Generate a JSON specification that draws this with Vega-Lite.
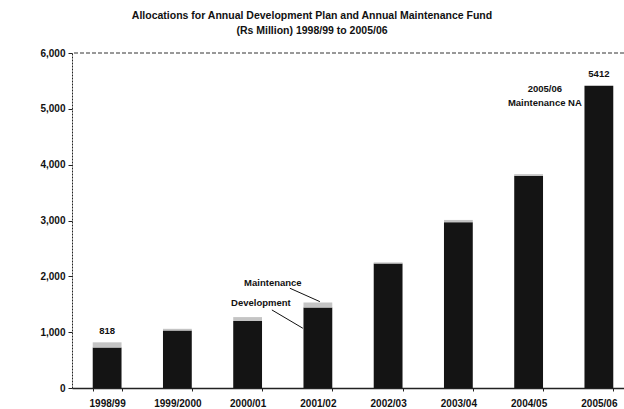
{
  "$schema": "https://vega.github.io/schema/vega-lite/v6.json",
  "autosize": {"type": "none"},
  "padding": {"left": 72, "top": 53, "right": 0, "bottom": 21},
  "width": 552,
  "height": 335,
  "background": "white",
  "config": {
    "font": "Liberation Sans",
    "view": {"stroke": null},
    "axis": {"labelFont": "Liberation Sans", "labelFontWeight": "bold", "labelColor": "#111", "domainColor": "#222", "tickColor": "#222"}
  },
  "title": {
    "text": ["Allocations for Annual Development Plan and Annual Maintenance Fund", "(Rs Million) 1998/99 to 2005/06"],
    "anchor": "middle",
    "dx": -36,
    "offset": 12,
    "fontSize": 10.5,
    "fontWeight": "bold",
    "font": "Liberation Sans",
    "color": "#111",
    "lineHeight": 15
  },
  "layer": [
    {
      "data": {"values": [
        {"year": "1998/99", "type": "Development", "value": 725},
        {"year": "1998/99", "type": "Maintenance", "value": 93},
        {"year": "1999/2000", "type": "Development", "value": 1030},
        {"year": "1999/2000", "type": "Maintenance", "value": 30},
        {"year": "2000/01", "type": "Development", "value": 1200},
        {"year": "2000/01", "type": "Maintenance", "value": 70},
        {"year": "2001/02", "type": "Development", "value": 1440},
        {"year": "2001/02", "type": "Maintenance", "value": 90},
        {"year": "2002/03", "type": "Development", "value": 2230},
        {"year": "2002/03", "type": "Maintenance", "value": 20},
        {"year": "2003/04", "type": "Development", "value": 2970},
        {"year": "2003/04", "type": "Maintenance", "value": 40},
        {"year": "2004/05", "type": "Development", "value": 3800},
        {"year": "2004/05", "type": "Maintenance", "value": 30},
        {"year": "2005/06", "type": "Development", "value": 5412},
        {"year": "2005/06", "type": "Maintenance", "value": 0}
      ]},
      "mark": {"type": "bar"},
      "encoding": {
        "x": {
          "field": "year", "type": "nominal", "sort": null,
          "scale": {"range": [0, 562], "paddingInner": 0.59, "paddingOuter": 0.295},
          "axis": {"title": null, "labelAngle": 0, "labelFontSize": 10, "tickBand": "extent", "tickSize": 3, "labelPadding": 7, "domainWidth": 1.5}
        },
        "y": {
          "field": "value", "type": "quantitative", "stack": "zero",
          "scale": {"domain": [0, 6000], "nice": false},
          "axis": {"title": null, "values": [0, 1000, 2000, 3000, 4000, 5000, 6000], "format": ",.0f", "labelFontSize": 10, "tickSize": 4, "labelPadding": 3, "grid": false, "domainDash": [2, 1]}
        },
        "color": {
          "field": "type", "type": "nominal",
          "scale": {"domain": ["Development", "Maintenance"], "range": ["#141414", "#c4c4c4"]},
          "legend": null
        },
        "order": {"field": "type", "sort": "ascending"}
      }
    },
    {
      "data": {"values": [{"top": 6000}]},
      "mark": {"type": "rule", "stroke": "#333", "strokeDash": [4, 2], "strokeWidth": 1},
      "encoding": {"y": {"field": "top", "type": "quantitative"}}
    },
    {
      "data": {"values": [
        {"year": "1998/99", "label": "818", "pos": 1021},
        {"year": "2005/06", "label": "5412", "pos": 5627}
      ]},
      "mark": {"type": "text", "fontSize": 9.5, "fontWeight": "bold", "color": "#111", "baseline": "middle"},
      "encoding": {
        "x": {"field": "year", "type": "nominal"},
        "y": {"field": "pos", "type": "quantitative"},
        "text": {"field": "label"}
      }
    },
    {
      "data": {"values": [
        {"year": "2005/06", "label": "2005/06", "pos": 5358},
        {"year": "2005/06", "label": "Maintenance NA", "pos": 5108}
      ]},
      "mark": {"type": "text", "fontSize": 9.5, "fontWeight": "bold", "color": "#111", "baseline": "middle", "dx": -54},
      "encoding": {
        "x": {"field": "year", "type": "nominal"},
        "y": {"field": "pos", "type": "quantitative"},
        "text": {"field": "label"}
      }
    },
    {
      "data": {"values": [
        {"year": "2001/02", "label": "Maintenance", "pos": 1882}
      ]},
      "mark": {"type": "text", "fontSize": 9.5, "fontWeight": "bold", "color": "#111", "baseline": "middle", "dx": -45},
      "encoding": {
        "x": {"field": "year", "type": "nominal"},
        "y": {"field": "pos", "type": "quantitative"},
        "text": {"field": "label"}
      }
    },
    {
      "data": {"values": [
        {"year": "2001/02", "label": "Development", "pos": 1523}
      ]},
      "mark": {"type": "text", "fontSize": 9.5, "fontWeight": "bold", "color": "#111", "baseline": "middle", "dx": -57},
      "encoding": {
        "x": {"field": "year", "type": "nominal"},
        "y": {"field": "pos", "type": "quantitative"},
        "text": {"field": "label"}
      }
    },
    {
      "data": {"values": [
        {"year": "2001/02", "from": 1787, "to": 1547}
      ]},
      "mark": {"type": "rule", "stroke": "#111", "strokeWidth": 1, "xOffset": -28, "x2Offset": 2},
      "encoding": {
        "x": {"field": "year", "type": "nominal"},
        "x2": {"field": "year"},
        "y": {"field": "from", "type": "quantitative"},
        "y2": {"field": "to"}
      }
    },
    {
      "data": {"values": [
        {"year": "2001/02", "from": 1398, "to": 1070}
      ]},
      "mark": {"type": "rule", "stroke": "#111", "strokeWidth": 1, "xOffset": -46, "x2Offset": -15},
      "encoding": {
        "x": {"field": "year", "type": "nominal"},
        "x2": {"field": "year"},
        "y": {"field": "from", "type": "quantitative"},
        "y2": {"field": "to"}
      }
    }
  ]
}
